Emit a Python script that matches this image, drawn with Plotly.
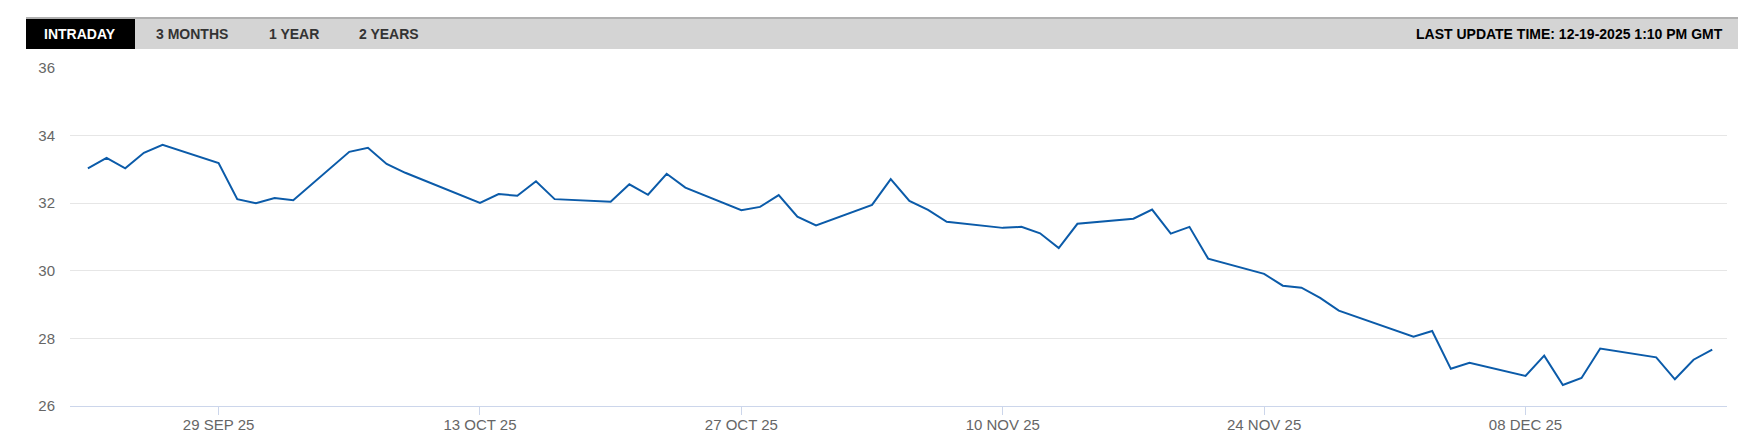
import plotly.graph_objects as go

# ---- data ----
dates = [
    "2025-09-22", "2025-09-23", "2025-09-24", "2025-09-25", "2025-09-26",
    "2025-09-29", "2025-09-30", "2025-10-01", "2025-10-02", "2025-10-03",
    "2025-10-06", "2025-10-07", "2025-10-08", "2025-10-09", "2025-10-13",
    "2025-10-14", "2025-10-15", "2025-10-16", "2025-10-17", "2025-10-20",
    "2025-10-21", "2025-10-22", "2025-10-23", "2025-10-24", "2025-10-27",
    "2025-10-28", "2025-10-29", "2025-10-30", "2025-10-31", "2025-11-03",
    "2025-11-04", "2025-11-05", "2025-11-06", "2025-11-07", "2025-11-10",
    "2025-11-11", "2025-11-12", "2025-11-13", "2025-11-14", "2025-11-17",
    "2025-11-18", "2025-11-19", "2025-11-20", "2025-11-21", "2025-11-24",
    "2025-11-25", "2025-11-26", "2025-11-27", "2025-11-28", "2025-12-02",
    "2025-12-03", "2025-12-04", "2025-12-05", "2025-12-08", "2025-12-09",
    "2025-12-10", "2025-12-11", "2025-12-12", "2025-12-15", "2025-12-16",
    "2025-12-17", "2025-12-18",
]
values = [
    33.03, 33.34, 33.03, 33.49, 33.73,
    33.19, 32.12, 32.00, 32.15, 32.09,
    33.52, 33.64, 33.16, 32.90, 32.01,
    32.27, 32.22, 32.65, 32.12, 32.04,
    32.56, 32.25, 32.87, 32.46, 31.79,
    31.89, 32.24, 31.60, 31.34, 31.95,
    32.71, 32.07, 31.80, 31.45, 31.27,
    31.30, 31.11, 30.67, 31.39, 31.54,
    31.81, 31.10, 31.30, 30.36, 29.91,
    29.56, 29.50, 29.20, 28.82, 28.05,
    28.22, 27.10, 27.28, 26.89, 27.49,
    26.62, 26.83, 27.70, 27.44, 26.79,
    27.37, 27.67,
]
tick_dates = ["2025-09-29", "2025-10-13", "2025-10-27", "2025-11-10", "2025-11-24", "2025-12-08"]
tick_labels = ["29 SEP 25", "13 OCT 25", "27 OCT 25", "10 NOV 25", "24 NOV 25", "08 DEC 25"]
y_ticks = [26, 28, 30, 32, 34, 36]
tabs = ["INTRADAY", "3 MONTHS", "1 YEAR", "2 YEARS"]
update_text = "LAST UPDATE TIME: 12-19-2025 1:10 PM GMT"

# ---- geometry (screen pixels; the page body adds an 8px margin) ----
OFF = 8
W, H = 1749 - OFF, 436 - OFF
L, R, T, B = 70, 1727, 68, 406          # plot area on screen
pw, ph = R - L, B - T


def px_x(x):
    return (x - L) / pw


def px_y(y):
    return (B - y) / ph


fig = go.Figure()
fig.add_trace(go.Scatter(
    x=dates, y=values, mode="lines",
    line=dict(color="#0b5ba9", width=2),
    hoverinfo="x+y", showlegend=False,
))

FONT = "Liberation Sans, Arial, sans-serif"

shapes = [
    dict(type="rect", xref="paper", yref="paper",
         x0=px_x(26), x1=px_x(1738), y0=px_y(49), y1=px_y(18),
         fillcolor="#d4d4d4", line=dict(width=0), layer="above"),
    dict(type="line", xref="paper", yref="paper",
         x0=px_x(26), x1=px_x(1738), y0=px_y(18), y1=px_y(18),
         line=dict(color="#b0b0b0", width=2), layer="above"),
    dict(type="rect", xref="paper", yref="paper",
         x0=px_x(26), x1=px_x(135), y0=px_y(49), y1=px_y(19),
         fillcolor="#000000", line=dict(width=0), layer="above"),
]

tab_centers = [80, 192, 294, 389]
annotations = []
for i, (t, cx) in enumerate(zip(tabs, tab_centers)):
    annotations.append(dict(
        text="<b>%s</b>" % t, xref="paper", yref="paper",
        x=px_x(cx), y=px_y(33.5), xanchor="center", yanchor="middle",
        showarrow=False,
        font=dict(family=FONT, size=14, color="#ffffff" if i == 0 else "#333333"),
    ))
annotations.append(dict(
    text="<b>%s</b>" % update_text, xref="paper", yref="paper",
    x=px_x(1725), y=px_y(33.5), xanchor="right", yanchor="middle",
    showarrow=False, font=dict(family=FONT, size=14, color="#000000"),
))

fig.update_layout(
    width=W, height=H,
    margin=dict(l=L - OFF, r=W - (R - OFF), t=T - OFF, b=H - (B - OFF), pad=0),
    paper_bgcolor="#ffffff", plot_bgcolor="#ffffff",
    shapes=shapes, annotations=annotations,
    showlegend=False,
    xaxis=dict(
        type="date", automargin=False,
        range=["2025-09-21 01:00", "2025-12-18 19:00"],
        tickmode="array", tickvals=tick_dates, ticktext=tick_labels,
        showgrid=False, zeroline=False,
        showline=True, linecolor="#ccd6eb", linewidth=1,
        ticks="outside", ticklen=8, tickcolor="#ccd6eb", tickwidth=1,
        ticklabelstandoff=-3,
        tickfont=dict(family=FONT, size=15, color="#666666"),
        fixedrange=True,
    ),
    yaxis=dict(
        range=[26, 36], tickmode="array", tickvals=y_ticks, automargin=False,
        showgrid=True, gridcolor="#e6e6e6", gridwidth=1,
        zeroline=False, showline=False, ticks="",
        ticklabelstandoff=14,
        tickfont=dict(family=FONT, size=15, color="#666666"),
        fixedrange=True,
    ),
)

fig.write_html("out.html")
